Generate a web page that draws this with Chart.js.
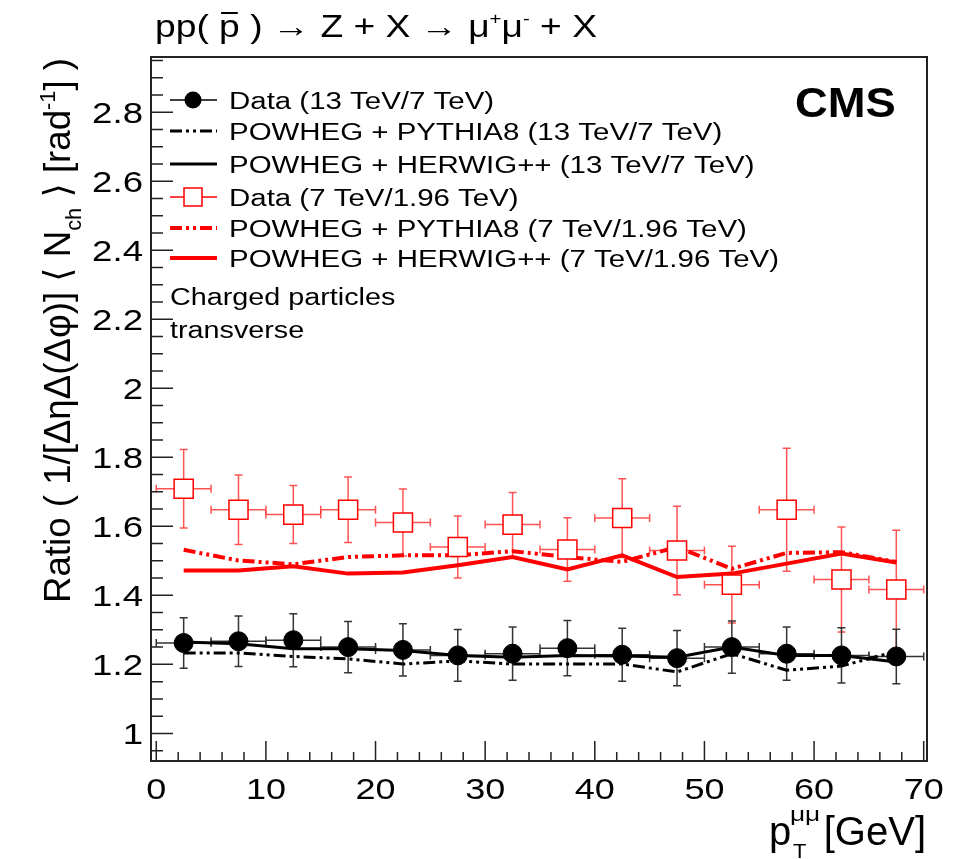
<!DOCTYPE html>
<html>
<head>
<meta charset="utf-8">
<script src="https://cdn.jsdelivr.net/npm/chart.js@4.4.0/dist/chart.umd.min.js"></script>
<style>
  html, body { margin: 0; padding: 0; background: #fff; }
  canvas { display: block; }
</style>
</head>
<body>
<canvas id="grafico" width="961" height="859" style="width:961px;height:859px"></canvas>
<script>
// centros dos bins em pT (GeV), meia largura 2.5
const bins = [2.5, 7.5, 12.5, 17.5, 22.5, 27.5, 32.5, 37.5, 42.5, 47.5, 52.5, 57.5, 62.5, 67.5];
const meiaLargura = 2.5;

// 13 TeV / 7 TeV
const dados13 = [1.262, 1.267, 1.270, 1.250, 1.242, 1.226, 1.231, 1.247, 1.228, 1.218, 1.250, 1.231, 1.226, 1.223];
const erro13 = [0.073, 0.073, 0.077, 0.074, 0.076, 0.075, 0.077, 0.080, 0.077, 0.080, 0.076, 0.077, 0.080, 0.079];
const pythia13 = [1.233, 1.233, 1.223, 1.216, 1.201, 1.210, 1.201, 1.201, 1.201, 1.178, 1.231, 1.183, 1.195, 1.238];
const herwig13 = [1.265, 1.260, 1.245, 1.245, 1.240, 1.226, 1.221, 1.226, 1.224, 1.221, 1.250, 1.226, 1.226, 1.207];

// 7 TeV / 1.96 TeV
const dados7 = [1.709, 1.648, 1.634, 1.648, 1.611, 1.540, 1.605, 1.533, 1.624, 1.530, 1.431, 1.648, 1.446, 1.417];
const erro7 = [0.114, 0.101, 0.084, 0.095, 0.097, 0.090, 0.093, 0.092, 0.114, 0.128, 0.111, 0.178, 0.152, 0.172];
const pythia7 = [1.532, 1.501, 1.490, 1.511, 1.516, 1.516, 1.528, 1.511, 1.497, 1.540, 1.477, 1.523, 1.525, 1.497];
const herwig7 = [1.472, 1.472, 1.484, 1.463, 1.466, 1.487, 1.511, 1.475, 1.516, 1.453, 1.463, 1.492, 1.521, 1.495];

const ticksX = [0, 10, 20, 30, 40, 50, 60, 70];
const ticksY = [1, 1.2, 1.4, 1.6, 1.8, 2, 2.2, 2.4, 2.6, 2.8];

const legendas = [
  "Data (13 TeV/7 TeV)",
  "POWHEG + PYTHIA8 (13 TeV/7 TeV)",
  "POWHEG + HERWIG++ (13 TeV/7 TeV)",
  "Data (7 TeV/1.96 TeV)",
  "POWHEG + PYTHIA8 (7 TeV/1.96 TeV)",
  "POWHEG + HERWIG++ (7 TeV/1.96 TeV)"
];

const FONTE = '"Liberation Sans", Arial, Helvetica, sans-serif';
const FONTE_ESTREITA = '"Liberation Sans Narrow", "Liberation Sans", "DejaVu Sans", sans-serif';
const VERMELHO = "#ff0000";
const TRACO = [12, 4, 3, 4, 3, 4];

function pontos(valores) {
  return bins.map((x, i) => ({ x: x, y: valores[i] }));
}

function barrasErro(ctx, chart, valores, erros, cor) {
  const sx = chart.scales.x, sy = chart.scales.y;
  ctx.save();
  ctx.strokeStyle = cor;
  ctx.lineWidth = 1.5;
  bins.forEach((b, i) => {
    const px = sx.getPixelForValue(b);
    const py = sy.getPixelForValue(valores[i]);
    const x0 = sx.getPixelForValue(b - meiaLargura), x1 = sx.getPixelForValue(b + meiaLargura);
    const y0 = sy.getPixelForValue(valores[i] - erros[i]), y1 = sy.getPixelForValue(valores[i] + erros[i]);
    ctx.beginPath();
    ctx.moveTo(x0, py); ctx.lineTo(x1, py);
    ctx.moveTo(x0, py - 4); ctx.lineTo(x0, py + 4);
    ctx.moveTo(x1, py - 4); ctx.lineTo(x1, py + 4);
    ctx.moveTo(px, y0); ctx.lineTo(px, y1);
    ctx.moveTo(px - 4, y0); ctx.lineTo(px + 4, y0);
    ctx.moveTo(px - 4, y1); ctx.lineTo(px + 4, y1);
    ctx.stroke();
  });
  ctx.restore();
}

// texto esticado na horizontal; alinhamento 0 = esquerda, 0.5 = centro, 1 = direita
function texto(ctx, t, x, y, fonte, esticar, alinhar) {
  ctx.save();
  ctx.font = fonte;
  ctx.textAlign = "left";
  const w = ctx.measureText(t).width * esticar;
  ctx.translate(x - w * (alinhar || 0), y);
  ctx.scale(esticar, 1);
  ctx.fillText(t, 0, 0);
  ctx.restore();
  return w;
}

// pedaços com sub/sobrescritos
function textoComposto(ctx, pedacos, x, base, tamanho, familia, esticar) {
  let cx = x;
  pedacos.forEach(p => {
    const f = Math.round(tamanho * (p.s || 1)) + "px " + familia;
    cx += texto(ctx, p.t, cx, base + (p.dy || 0), f, esticar) + (p.dx || 0);
  });
  return cx - x;
}

function larguraComposta(ctx, pedacos, tamanho, familia) {
  let w = 0;
  pedacos.forEach(p => {
    ctx.font = Math.round(tamanho * (p.s || 1)) + "px " + familia;
    w += ctx.measureText(p.t).width + (p.dx || 0);
  });
  return w;
}

const pluginMoldura = {
  id: "moldura",
  beforeDatasetsDraw(chart) {
    const ctx = chart.ctx;
    barrasErro(ctx, chart, dados7, erro7, "rgba(255,40,40,0.8)");
    barrasErro(ctx, chart, dados13, erro13, "#333");
  },
  afterDraw(chart) {
    const ctx = chart.ctx;
    const a = chart.chartArea;
    const sx = chart.scales.x, sy = chart.scales.y;
    ctx.save();

    // moldura
    ctx.strokeStyle = "#222";
    ctx.lineWidth = 2;
    ctx.strokeRect(a.left, a.top, a.right - a.left, a.bottom - a.top);

    // marcas dos eixos, para dentro
    ctx.lineWidth = 1.5;
    ctx.beginPath();
    for (let v = 0; v <= 70; v += 2) {
      const px = sx.getPixelForValue(v);
      const len = v % 10 === 0 ? 20 : 9;
      ctx.moveTo(px, a.bottom); ctx.lineTo(px, a.bottom - len);
    }
    for (let k = 19; k <= 59; k++) {
      const v = k * 0.05;
      const py = sy.getPixelForValue(v);
      const len = k % 4 === 0 ? 22 : 12;
      ctx.moveTo(a.left, py); ctx.lineTo(a.left + len, py);
    }
    ctx.stroke();

    ctx.fillStyle = "#000";
    ctx.textBaseline = "alphabetic";

    // rótulos dos eixos, a partir dos ticks das escalas
    const fTick = "30px " + FONTE;
    sx.ticks.forEach(t => {
      texto(ctx, String(t.value), sx.getPixelForValue(t.value), 799, fTick, 1.2, 0.5);
    });
    sy.ticks.forEach(t => {
      texto(ctx, String(Math.round(t.value * 10) / 10), 143, sy.getPixelForValue(t.value) + 11, fTick, 1.22, 1);
    });

    // título
    const tt = 31;
    let cx = 155;
    const bt = 37;
    const est = 1.2;
    cx += texto(ctx, "pp( ", cx, bt, tt + "px " + FONTE, est);
    ctx.font = tt + "px " + FONTE;
    const wp = ctx.measureText("p").width * est;
    texto(ctx, "p", cx, bt, tt + "px " + FONTE, est);
    ctx.fillRect(cx + 2, bt - 25, wp - 4, 2);
    cx += wp;
    textoComposto(ctx, [
      { t: " ) \u2192 Z + X \u2192 \u03bc" },
      { t: "+", s: 0.55, dy: -13 },
      { t: "\u03bc" },
      { t: "-", s: 0.55, dy: -13 },
      { t: " + X" }
    ], cx, bt, tt, FONTE, est);

    // CMS
    texto(ctx, "CMS", 795, 117, "bold 42px " + FONTE, 1.08);

    // legenda
    const y = [100, 131, 164, 197, 228, 258];
    const sx0 = 170, sx1 = 217, smid = 193;
    legendas.forEach((t, i) => {
      texto(ctx, t, 229, y[i] + 9, "23px " + FONTE, 1.28);
    });
    // dados 13/7
    ctx.strokeStyle = "#000"; ctx.lineWidth = 1.5;
    ctx.beginPath(); ctx.moveTo(sx0, y[0]); ctx.lineTo(sx1, y[0]); ctx.stroke();
    ctx.beginPath(); ctx.arc(smid, y[0], 8.5, 0, Math.PI * 2); ctx.fillStyle = "#000"; ctx.fill();
    // pythia e herwig 13/7
    ctx.lineWidth = 3; ctx.setLineDash(TRACO);
    ctx.beginPath(); ctx.moveTo(sx0, y[1]); ctx.lineTo(sx1, y[1]); ctx.stroke();
    ctx.setLineDash([]);
    ctx.beginPath(); ctx.moveTo(sx0, y[2]); ctx.lineTo(sx1, y[2]); ctx.stroke();
    // dados 7/1.96
    ctx.strokeStyle = VERMELHO; ctx.lineWidth = 1.5;
    ctx.beginPath(); ctx.moveTo(sx0, y[3]); ctx.lineTo(sx1, y[3]); ctx.stroke();
    ctx.fillStyle = "#fff";
    ctx.fillRect(smid - 9, y[3] - 9, 18, 18);
    ctx.strokeRect(smid - 9, y[3] - 9, 18, 18);
    ctx.lineWidth = 4; ctx.setLineDash(TRACO);
    ctx.beginPath(); ctx.moveTo(sx0, y[4]); ctx.lineTo(sx1, y[4]); ctx.stroke();
    ctx.setLineDash([]);
    ctx.beginPath(); ctx.moveTo(sx0, y[5]); ctx.lineTo(sx1, y[5]); ctx.stroke();

    ctx.fillStyle = "#000";
    texto(ctx, "Charged particles", 170, 305, "23px " + FONTE, 1.25);
    texto(ctx, "transverse", 170, 338, "23px " + FONTE, 1.25);

    // título do eixo x
    texto(ctx, "[GeV]", 926, 845, "40px " + FONTE, 1.0, 1);
    texto(ctx, "p", 769, 845, "40px " + FONTE, 1.0);
    texto(ctx, "\u03bc\u03bc", 790, 821, "21px " + FONTE, 1.25);
    texto(ctx, "T", 793, 858, "20px " + FONTE, 1.1);

    // título do eixo y (girado)
    const pedY = [
      { t: "Ratio ( 1/[\u0394\u03b7\u0394(\u0394\u03c6)] \u27e8 N" },
      { t: "ch", s: 0.6, dy: 11 },
      { t: " \u27e9 [rad" },
      { t: "-1", s: 0.6, dy: -15 },
      { t: "] )" }
    ];
    const ty = 37;
    const wy = larguraComposta(ctx, pedY, ty, FONTE_ESTREITA);
    ctx.translate(70, 603);
    ctx.rotate(-Math.PI / 2);
    textoComposto(ctx, pedY, 0, 0, ty, FONTE_ESTREITA, 545 / wy);

    ctx.restore();
  }
};

function criarGrafico() {
  const ctx = document.getElementById("grafico").getContext("2d");
  new Chart(ctx, {
    type: "line",
    data: {
      datasets: [
        {
          label: legendas[0],
          data: pontos(dados13),
          showLine: false,
          pointStyle: "circle",
          pointRadius: 9.5,
          backgroundColor: "#000",
          borderColor: "#000"
        },
        {
          label: legendas[3],
          data: pontos(dados7),
          showLine: false,
          pointStyle: "rect",
          pointRadius: 13.5,
          backgroundColor: "#fff",
          borderColor: VERMELHO,
          borderWidth: 1.5
        },
        {
          label: legendas[2],
          data: pontos(herwig13),
          borderColor: "#000",
          borderWidth: 3,
          pointRadius: 0
        },
        {
          label: legendas[1],
          data: pontos(pythia13),
          borderColor: "#000",
          borderWidth: 3,
          borderDash: TRACO,
          pointRadius: 0
        },
        {
          label: legendas[5],
          data: pontos(herwig7),
          borderColor: VERMELHO,
          borderWidth: 4,
          pointRadius: 0
        },
        {
          label: legendas[4],
          data: pontos(pythia7),
          borderColor: VERMELHO,
          borderWidth: 4,
          borderDash: TRACO,
          pointRadius: 0
        }
      ]
    },
    options: {
      responsive: false,
      animation: false,
      devicePixelRatio: 1,
      layout: { padding: { left: 0, top: 57, right: 34, bottom: 0 } },
      plugins: { legend: { display: false }, tooltip: { enabled: false } },
      elements: { line: { tension: 0 } },
      scales: {
        x: {
          type: "linear",
          min: -0.48,
          max: 70.3,
          afterFit: s => { s.height = 98; },
          afterBuildTicks: s => { s.ticks = ticksX.map(v => ({ value: v })); },
          grid: { display: false, drawTicks: false },
          border: { display: false },
          ticks: { display: false }
        },
        y: {
          type: "linear",
          min: 0.92,
          max: 2.96,
          afterFit: s => { s.width = 151; },
          afterBuildTicks: s => { s.ticks = ticksY.map(v => ({ value: v })); },
          grid: { display: false, drawTicks: false },
          border: { display: false },
          ticks: { display: false }
        }
      }
    },
    plugins: [pluginMoldura]
  });
}

criarGrafico();
</script>
</body>
</html>
